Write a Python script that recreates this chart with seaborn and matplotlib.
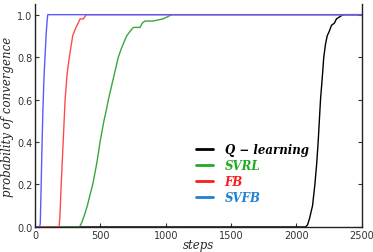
import numpy as np
import pandas as pd
import matplotlib
matplotlib.use("Agg")
import matplotlib.pyplot as plt
import seaborn as sns

# ---- data ----
svfb_steps = [0, 36, 40, 45, 52, 60, 68, 76, 84, 92, 97, 2500]
svfb_prob  = [0.0, 0.0, 0.02, 0.15, 0.35, 0.55, 0.70, 0.80, 0.90, 0.97, 1.0, 1.0]

fb_steps = [0, 184, 190, 200, 215, 230, 245, 262, 275, 288, 300, 313, 330, 344, 370, 390, 2500]
fb_prob  = [0.0, 0.0, 0.05, 0.20, 0.40, 0.60, 0.72, 0.80, 0.85, 0.90, 0.92, 0.94, 0.96, 0.98, 0.98, 1.0, 1.0]

svrl_steps = [0, 340, 357, 380, 400, 420, 441, 460, 472, 485, 497, 512, 527, 545, 561, 580,
              599, 618, 637, 660, 680, 701, 725, 752, 803, 820, 841, 900, 980, 1045, 2500]
svrl_prob  = [0.0, 0.0, 0.02, 0.06, 0.10, 0.15, 0.20, 0.26, 0.30, 0.35, 0.40, 0.45, 0.50, 0.55,
              0.60, 0.65, 0.70, 0.75, 0.80, 0.84, 0.87, 0.90, 0.92, 0.94, 0.94, 0.96, 0.97, 0.97,
              0.98, 1.0, 1.0]

ql_steps = [0, 2070, 2085, 2100, 2123, 2141, 2155, 2166, 2175, 2184, 2197, 2209, 2222, 2235,
            2250, 2268, 2290, 2306, 2330, 2357, 2500]
ql_prob  = [0.0, 0.0, 0.01, 0.04, 0.10, 0.20, 0.30, 0.40, 0.50, 0.60, 0.70, 0.80, 0.86, 0.90,
            0.92, 0.95, 0.96, 0.98, 0.99, 1.0, 1.0]

leg_texts = ["Q − learning", "SVRL", "FB", "SVFB"]

sns.set_style("ticks")
plt.rcParams['font.family'] = ['DejaVu Sans']

fig = plt.figure(figsize=(3.73, 2.53), dpi=100)
ax = fig.add_axes([0.094, 0.099, 0.876, 0.881])

def draw(xs, ys, color):
    df = pd.DataFrame({"steps": xs, "prob": ys})
    sns.lineplot(data=df, x="steps", y="prob", ax=ax, color=color, lw=1.0,
                 estimator=None, sort=False, legend=False)

draw(ql_steps, ql_prob, "#000000")
draw(svrl_steps, svrl_prob, "#3aa63a")
draw(fb_steps, fb_prob, "#ff4a4a")
draw(svfb_steps, svfb_prob, "#5a5aff")

ax.set_xlim(0, 2500)
ax.set_ylim(0, 1.05)
ax.set_xticks([0, 500, 1000, 1500, 2000, 2500])
ax.set_yticks([0.0, 0.2, 0.4, 0.6, 0.8, 1.0])
ax.set_yticklabels(["0.0", "0.2", "0.4", "0.6", "0.8", "1.0"])
ax.tick_params(direction="in", labelsize=7, length=3, pad=2, right=True, colors="#333333",
               labelcolor="#333333")
ax.spines["top"].set_visible(False)
for s in ["left", "right", "bottom"]:
    ax.spines[s].set_color("#222222")
    ax.spines[s].set_linewidth(1.0)

ax.set_xlabel("steps", family="DejaVu Serif", style="italic", fontsize=8.5, labelpad=-1)
ax.set_ylabel("probability of convergence", family="DejaVu Serif", style="italic",
              fontsize=8.5, labelpad=2)

leg_colors = ["#000000", "#22aa22", "#ff1a1a", "#1f7fd0"]
handles = [plt.Line2D([], [], color=c, lw=2) for c in leg_colors]
leg = ax.legend(handles, leg_texts, loc="center", bbox_to_anchor=(0.665, 0.24),
                frameon=False, handlelength=1.4, handletextpad=1.0, labelspacing=0.25,
                prop={"family": "DejaVu Serif", "style": "italic", "weight": "bold", "size": 8.5})
for t, c in zip(leg.get_texts(), leg_colors):
    t.set_color(c)

fig.savefig("out.png", dpi=100)
